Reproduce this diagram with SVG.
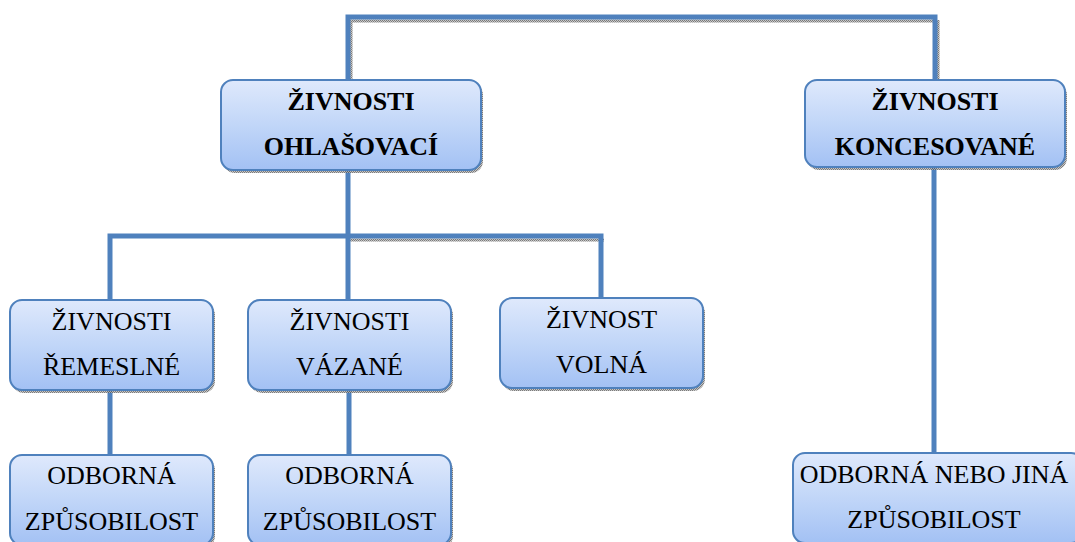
<svg xmlns="http://www.w3.org/2000/svg" width="1075" height="542" viewBox="0 0 1075 542">
<defs>
<linearGradient id="g" x1="0" y1="0" x2="0" y2="1">
<stop offset="0" stop-color="#dfe9fc"/>
<stop offset="0.5" stop-color="#c1d6f8"/>
<stop offset="1" stop-color="#a3c1f4"/>
</linearGradient>
<pattern id="sh" width="2" height="2" patternUnits="userSpaceOnUse">
<rect width="2" height="2" fill="#b8b8b8"/>
<rect width="1" height="1" fill="#5a5a5a"/>
<rect x="1" y="1" width="1" height="1" fill="#5a5a5a"/>
</pattern>
</defs>
<style>
.ln{fill:none;stroke:#4f81bd;stroke-width:5;stroke-linecap:square}
.lsh{fill:none;stroke:url(#sh);stroke-width:3;opacity:0.8}
.box{fill:url(#g);stroke:#4f81bd;stroke-width:2}
.bsh{fill:url(#sh);opacity:0.8}
</style>
<rect width="1075" height="542" fill="#fff"/>
<g id="connectors">
<path class="lsh" d="M350 21 H936 M350 240 H604 M351 20 V82 M938 20 V82"/>
<path class="ln" d="M348 17 V80 M348 17 H935 V80"/>
<path class="ln" d="M348 170 V300"/>
<path class="ln" d="M110 300 V236 H601 V298"/>
<path class="ln" d="M110 390 V455 M349 390 V455"/>
<path class="ln" d="M934 167 V453"/>
</g>
<g id="n-ohlasovaci">
<rect class="bsh" x="223" y="83" width="260" height="90" rx="12"/>
<rect class="box" x="221" y="80" width="260" height="90" rx="12"/>
<text font-family="Liberation Serif" font-size="26" font-weight="bold" text-anchor="middle" x="351" y="110">ŽIVNOSTI</text>
<text font-family="Liberation Serif" font-size="26" font-weight="bold" text-anchor="middle" x="351" y="155">OHLAŠOVACÍ</text>
</g>
<g id="n-koncesovane">
<rect class="bsh" x="807" y="83" width="260" height="87" rx="12"/>
<rect class="box" x="805" y="80" width="260" height="87" rx="12"/>
<text font-family="Liberation Serif" font-size="26" font-weight="bold" text-anchor="middle" x="935" y="110">ŽIVNOSTI</text>
<text font-family="Liberation Serif" font-size="26" font-weight="bold" text-anchor="middle" x="935" y="155">KONCESOVANÉ</text>
</g>
<g id="n-remeslne">
<rect class="bsh" x="12" y="303" width="203" height="90" rx="12"/>
<rect class="box" x="10" y="300" width="203" height="90" rx="12"/>
<text font-family="Liberation Serif" font-size="26" text-anchor="middle" x="111.5" y="330">ŽIVNOSTI</text>
<text font-family="Liberation Serif" font-size="26" text-anchor="middle" x="111.5" y="375">ŘEMESLNÉ</text>
</g>
<g id="n-vazane">
<rect class="bsh" x="250" y="303" width="203" height="90" rx="12"/>
<rect class="box" x="248" y="300" width="203" height="90" rx="12"/>
<text font-family="Liberation Serif" font-size="26" text-anchor="middle" x="349.5" y="330">ŽIVNOSTI</text>
<text font-family="Liberation Serif" font-size="26" text-anchor="middle" x="349.5" y="375">VÁZANÉ</text>
</g>
<g id="n-volna">
<rect class="bsh" x="502" y="301" width="203" height="90" rx="12"/>
<rect class="box" x="500" y="298" width="203" height="90" rx="12"/>
<text font-family="Liberation Serif" font-size="26" text-anchor="middle" x="601.5" y="328">ŽIVNOST</text>
<text font-family="Liberation Serif" font-size="26" text-anchor="middle" x="601.5" y="373">VOLNÁ</text>
</g>
<g id="n-odborna1">
<rect class="bsh" x="12" y="458" width="203" height="90" rx="12"/>
<rect class="box" x="10" y="455" width="203" height="90" rx="12"/>
<text font-family="Liberation Serif" font-size="26" text-anchor="middle" x="111.5" y="484">ODBORNÁ</text>
<text font-family="Liberation Serif" font-size="26" text-anchor="middle" x="111.5" y="530">ZPŮSOBILOST</text>
</g>
<g id="n-odborna2">
<rect class="bsh" x="250" y="458" width="203" height="90" rx="12"/>
<rect class="box" x="248" y="455" width="203" height="90" rx="12"/>
<text font-family="Liberation Serif" font-size="26" text-anchor="middle" x="349.5" y="484">ODBORNÁ</text>
<text font-family="Liberation Serif" font-size="26" text-anchor="middle" x="349.5" y="530">ZPŮSOBILOST</text>
</g>
<g id="n-odborna3">
<rect class="bsh" x="795" y="456" width="290" height="90" rx="12"/>
<rect class="box" x="793" y="453" width="290" height="90" rx="12"/>
<text font-family="Liberation Serif" font-size="26" text-anchor="middle" x="934" y="483">ODBORNÁ NEBO JINÁ</text>
<text font-family="Liberation Serif" font-size="26" text-anchor="middle" x="934" y="528">ZPŮSOBILOST</text>
</g>
</svg>
